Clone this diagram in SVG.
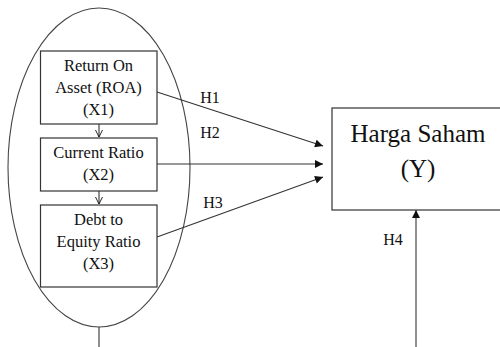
<svg xmlns="http://www.w3.org/2000/svg" width="500" height="347" viewBox="0 0 500 347">
<defs>
<style>
.box{fill:#fff;stroke:#333;stroke-width:1.2}
.ln{stroke:#333;stroke-width:1.1;fill:none}
.t{font-family:"Liberation Serif","Times New Roman",serif;fill:#111;text-anchor:middle}
.s{font-size:16.5px}
.h{font-size:16px}
.y{font-size:25px}
</style>
<marker id="fa" viewBox="0 0 10 10" refX="10" refY="5" markerWidth="9" markerHeight="8" markerUnits="userSpaceOnUse" orient="auto">
<path d="M0,0 L10,5 L0,10 Z" fill="#111"/>
</marker>
<marker id="oa" viewBox="0 0 10 10" refX="10" refY="5" markerWidth="7" markerHeight="9" markerUnits="userSpaceOnUse" orient="auto">
<path d="M0,0 L10,5 L0,10" fill="none" stroke="#111" stroke-width="1.3"/>
</marker>
</defs>
<rect width="500" height="347" fill="#fff"/>
<g id="group-x">
<ellipse cx="99" cy="167.5" rx="91" ry="159.5" fill="none" stroke="#444" stroke-width="1.1"/>
</g>
<g id="connectors">
<line class="ln" x1="99" y1="124" x2="99" y2="137" marker-end="url(#oa)"/>
<line class="ln" x1="99" y1="191" x2="99" y2="204" marker-end="url(#oa)"/>
<line class="ln" x1="157" y1="92" x2="323" y2="146" marker-end="url(#fa)"/>
<line class="ln" x1="157" y1="164" x2="323" y2="164" marker-end="url(#fa)"/>
<line class="ln" x1="157" y1="237" x2="323" y2="177" marker-end="url(#fa)"/>
<line class="ln" x1="416" y1="347" x2="416" y2="210" marker-end="url(#fa)"/>
<line class="ln" x1="99" y1="327" x2="99" y2="347"/>
<text class="t h" x="210" y="103">H1</text>
<text class="t h" x="210" y="138">H2</text>
<text class="t h" x="213" y="208">H3</text>
<text class="t h" x="393" y="245">H4</text>
</g>
<g id="x1">
<rect class="box" x="40.5" y="51" width="116.5" height="73"/>
<text class="t s" x="98.5" y="71">Return On</text>
<text class="t s" x="98.5" y="93">Asset (ROA)</text>
<text class="t s" x="98.5" y="115">(X1)</text>
</g>
<g id="x2">
<rect class="box" x="40.5" y="138" width="116.5" height="53"/>
<text class="t s" x="98.5" y="158">Current Ratio</text>
<text class="t s" x="98.5" y="180">(X2)</text>
</g>
<g id="x3">
<rect class="box" x="40.5" y="205" width="116.5" height="82"/>
<text class="t s" x="98.5" y="225">Debt to</text>
<text class="t s" x="98.5" y="247">Equity Ratio</text>
<text class="t s" x="98.5" y="269">(X3)</text>
</g>
<g id="y">
<rect class="box" x="332" y="108" width="172" height="102"/>
<text class="t y" x="418" y="142">Harga Saham</text>
<text class="t y" x="418" y="177">(Y)</text>
</g>
</svg>
